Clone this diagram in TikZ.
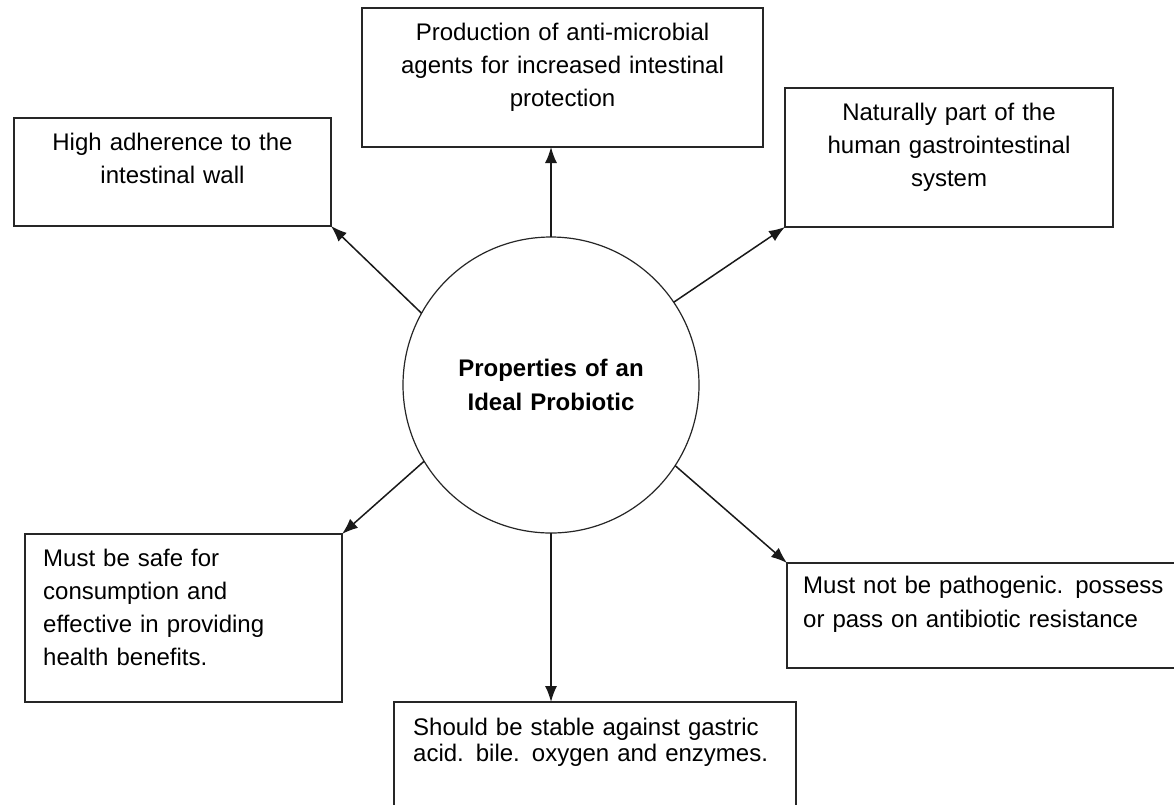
\documentclass[tikz,border=0pt]{standalone}
\usepackage{fontspec}
\setmainfont{Liberation Sans}
\usetikzlibrary{arrows.meta}
\begin{document}
\begin{tikzpicture}[x=1pt,y=-1pt,
  box/.style={draw=black!85, line width=1.8pt, rectangle, inner sep=0pt, outer sep=0pt},
  hub/.style={draw=black!85, line width=1.2pt, circle, inner sep=0pt, outer sep=0pt, minimum size=296pt},
  txtc/.style={inner sep=0pt, anchor=base, align=center, font=\fontsize{24}{33}\selectfont},
  txtl/.style={inner sep=0pt, anchor=base west, align=left, font=\fontsize{24}{33}\selectfont},
  link/.style={draw=black!90, line width=1.5pt, -{Latex[length=16pt,width=12pt]}}]
\useasboundingbox (0,0) rectangle (1174,804);
\clip (0,0) rectangle (1174,804);
\fill[white] (0,0) rectangle (1174,804);

% central circle
\node[hub] (c) at (551,385) {};
\node[inner sep=0pt, anchor=base, align=center, font=\fontsize{24}{34}\selectfont\bfseries, text width=280pt] (ct) at (551,376) {Properties of an\\Ideal Probiotic};

% surrounding boxes
\node[box, minimum width=401pt, minimum height=139pt] (b1) at (562.5,77.5) {};
\node[box, minimum width=317pt, minimum height=108pt] (b2) at (172.5,172) {};
\node[box, minimum width=328pt, minimum height=139pt] (b3) at (949,157.5) {};
\node[box, minimum width=317pt, minimum height=168pt] (b4) at (183.5,618) {};
\node[box, minimum width=403pt, minimum height=105pt] (b5) at (988.5,615.5) {};
\node[box, minimum width=402pt, minimum height=138pt] (b6) at (595,771) {};

% box texts
\node[txtc, text width=390pt] (t1) at (562.5,40) {Production of anti-microbial\\agents for increased intestinal\\protection};
\node[txtc, text width=310pt] (t2) at (172.5,150) {High adherence to the\\intestinal wall};
\node[txtc, text width=320pt] (t3) at (949,120) {Naturally part of the\\human gastrointestinal\\system};
\node[txtl, text width=300pt] (t4) at (43,566) {Must be safe for\\consumption and\\effective in providing\\health benefits.};
\node[txtl, text width=380pt, font=\fontsize{24}{34}\selectfont] (t5) at (803,593) {Must not be pathogenic. possess\\or pass on antibiotic resistance};
\node[txtl, text width=380pt, font=\fontsize{24}{26}\selectfont] (t6) at (413,735) {Should be stable against gastric\\acid. bile. oxygen and enzymes.};

% connectors
\draw[link] (c.north) -- (c.north |- b1.south);
\draw[link] (c.151.6) -- (b2.south east);
\draw[link] (c.34.5) -- (b3.south west);
\draw[link] (c.211.7) -- (b4.north east);
\draw[link] (c.-33.3) -- (b5.north west);
\draw[link] (c.south) -- (c.south |- b6.north);
\end{tikzpicture}
\end{document}
